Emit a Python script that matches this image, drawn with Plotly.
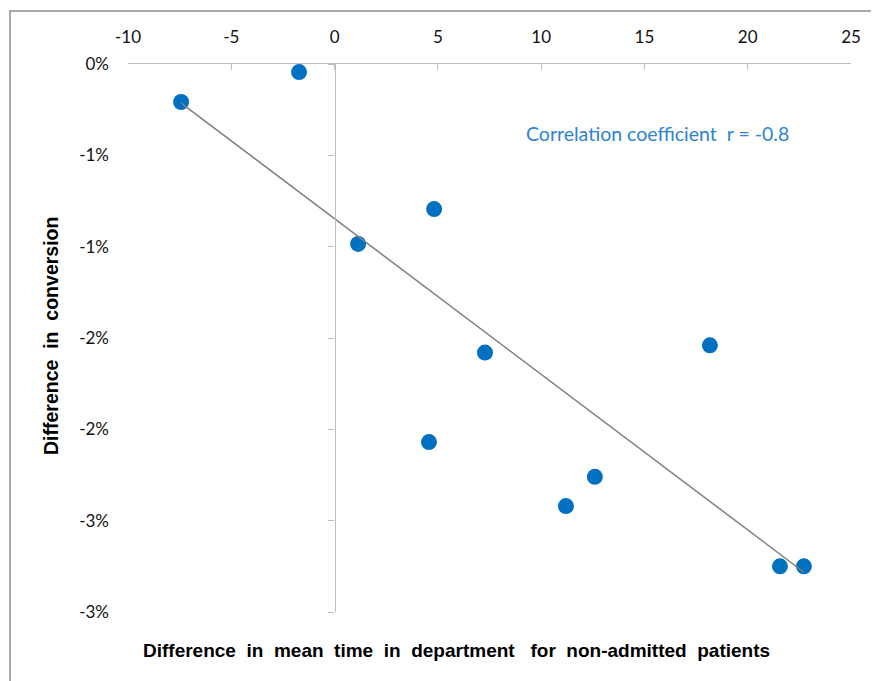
import numpy as np
import plotly.graph_objects as go

# Data (x: difference in mean time, y: difference in conversion, %)
time_diff = [-7.43, -1.72, 1.14, 4.82, 7.28, 4.57, 18.17, 12.6, 11.2, 21.56, 22.72]
conv_diff = [-0.208, -0.044, -0.985, -0.794, -1.58, -2.07, -1.54, -2.26, -2.42, -2.75, -2.75]

x_ticks = [-10, -5, 0, 5, 10, 15, 20, 25]
x_tick_text = ["-10", "-5", "0", "5", "10", "15", "20", "25"]
y_ticks = [0, -0.5, -1.0, -1.5, -2.0, -2.5, -3.0]
y_tick_text = ["0%", "-1%", "-1%", "-2%", "-2%", "-3%", "-3%"]

# Linear trend line
slope, intercept = np.polyfit(time_diff, conv_diff, 1)
trend_x = [min(time_diff), max(time_diff)]
trend_y = [slope * v + intercept for v in trend_x]

W, H = 879, 681
OFF = 8  # page body margin
ml, mr, mt, mb = 128 - OFF, 28 + OFF, 64 - OFF, 69 + OFF
pw, ph = W - ml - mr, H - mt - mb


def px(xw):
    return (xw - OFF - ml) / pw


def py(yw):
    return 1 - (yw - OFF - mt) / ph


fig = go.Figure()
fig.add_trace(go.Scatter(
    x=time_diff, y=conv_diff, mode="markers",
    marker=dict(size=16, color="#0070C0"),
    xaxis="x", yaxis="y", showlegend=False, hoverinfo="x+y"))
fig.add_trace(go.Scatter(
    x=trend_x, y=trend_y, mode="lines",
    line=dict(color="#7F7F7F", width=1.5),
    xaxis="x", yaxis="y2", showlegend=False, hoverinfo="skip"))

tick_font = dict(family="Lato, 'Open Sans', sans-serif", size=17, color="#111111")
xr = [-10, 25]
yr = [-3.0, 0]

fig.update_layout(
    width=W, height=H,
    margin=dict(l=ml, r=mr, t=mt, b=mb),
    paper_bgcolor="white", plot_bgcolor="white",
    xaxis=dict(
        range=xr, side="top", tickvals=x_ticks, ticktext=x_tick_text,
        showline=True, linecolor="#BFBFBF", linewidth=1.3,
        ticks="inside", ticklen=6, tickcolor="#BFBFBF", tickwidth=1.3,
        showgrid=False, zeroline=False, tickfont=tick_font,
        ticklabelstandoff=13, domain=[0, 1]),
    yaxis=dict(
        range=yr, tickvals=y_ticks, ticktext=y_tick_text,
        showline=False, ticks="", showgrid=False, zeroline=False,
        tickfont=tick_font, ticklabelstandoff=18),
    yaxis2=dict(
        range=yr, overlaying="y", anchor="free",
        position=(0 - xr[0]) / (xr[1] - xr[0]),
        tickvals=y_ticks, showticklabels=False,
        showline=True, linecolor="#BFBFBF", linewidth=1.3,
        ticks="outside", ticklen=6, tickcolor="#BFBFBF", tickwidth=1.3,
        showgrid=False, zeroline=False),
)

# Outer chart border (top and left edges visible)
fig.add_shape(type="rect", xref="paper", yref="paper",
              x0=px(10), x1=1.5, y0=-0.5, y1=py(11),
              line=dict(color="#8C8C8C", width=1.5), fillcolor="rgba(0,0,0,0)",
              layer="below")

fig.add_annotation(
    text="Correlation coefficient&nbsp;&nbsp;r = -0.8",
    xref="paper", yref="paper", x=px(657), y=py(133),
    showarrow=False, xanchor="center", yanchor="middle",
    font=dict(family="Lato, 'Open Sans', sans-serif", size=19.5, color="#2E84CF"))

fig.add_annotation(
    text="<b>Difference&nbsp; in&nbsp; mean&nbsp; time&nbsp; in&nbsp; department&nbsp;&nbsp; for&nbsp; non-admitted&nbsp; patients</b>",
    xref="paper", yref="paper", x=px(456), y=py(650),
    showarrow=False, xanchor="center", yanchor="middle",
    font=dict(family="'Liberation Sans', Arial, sans-serif", size=19, color="#000000"),
)
fig.add_annotation(
    text="<b>Difference&nbsp; in&nbsp; conversion</b>",
    xref="paper", yref="paper", x=px(51), y=py(336),
    showarrow=False, xanchor="center", yanchor="middle", textangle=-90,
    font=dict(family="'Liberation Sans', Arial, sans-serif", size=19.5, color="#000000"),
)

fig.write_html("out.html")
